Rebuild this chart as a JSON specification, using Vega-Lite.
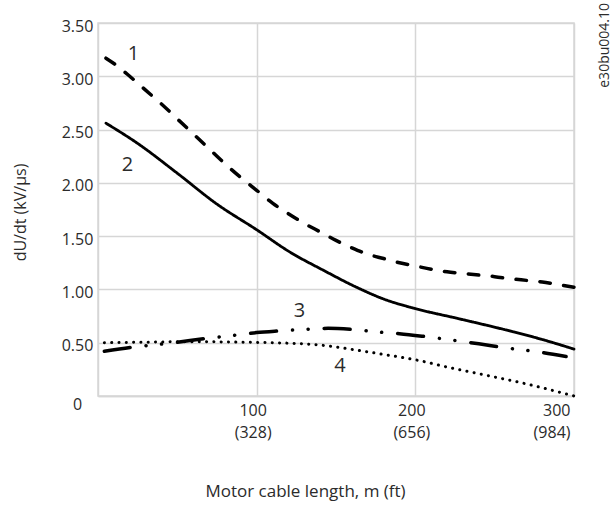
{
  "$schema": "https://vega.github.io/schema/vega-lite/v6.json",
  "width": 476,
  "height": 373,
  "autosize": {"type": "none"},
  "padding": {"left": 98, "top": 23, "right": 40, "bottom": 110},
  "background": "white",
  "config": {
    "font": "Open Sans",
    "view": {"stroke": "#d6d6d6", "strokeWidth": 1.5},
    "axis": {"labelFont": "Open Sans", "titleFont": "Open Sans", "labelColor": "#2b2b2b", "titleColor": "#2b2b2b", "titleFontWeight": "normal", "gridColor": "#d6d6d6", "gridWidth": 1.5, "domainColor": "#d6d6d6", "domainWidth": 1.5, "ticks": false}
  },
  "datasets": {
    "curves": [
      {"curve": "1", "length": 5, "dudt": 3.17},
      {"curve": "1", "length": 10, "dudt": 3.12},
      {"curve": "1", "length": 20, "dudt": 3.0},
      {"curve": "1", "length": 30, "dudt": 2.87},
      {"curve": "1", "length": 40, "dudt": 2.74},
      {"curve": "1", "length": 50, "dudt": 2.6},
      {"curve": "1", "length": 60, "dudt": 2.46},
      {"curve": "1", "length": 70, "dudt": 2.32},
      {"curve": "1", "length": 80, "dudt": 2.18},
      {"curve": "1", "length": 90, "dudt": 2.05},
      {"curve": "1", "length": 100, "dudt": 1.93},
      {"curve": "1", "length": 110, "dudt": 1.81},
      {"curve": "1", "length": 120, "dudt": 1.71},
      {"curve": "1", "length": 130, "dudt": 1.62},
      {"curve": "1", "length": 140, "dudt": 1.54},
      {"curve": "1", "length": 150, "dudt": 1.46},
      {"curve": "1", "length": 160, "dudt": 1.39},
      {"curve": "1", "length": 170, "dudt": 1.33},
      {"curve": "1", "length": 180, "dudt": 1.29},
      {"curve": "1", "length": 190, "dudt": 1.25},
      {"curve": "1", "length": 200, "dudt": 1.22},
      {"curve": "1", "length": 210, "dudt": 1.19},
      {"curve": "1", "length": 220, "dudt": 1.165},
      {"curve": "1", "length": 230, "dudt": 1.15},
      {"curve": "1", "length": 240, "dudt": 1.135},
      {"curve": "1", "length": 250, "dudt": 1.12},
      {"curve": "1", "length": 260, "dudt": 1.1},
      {"curve": "1", "length": 270, "dudt": 1.085},
      {"curve": "1", "length": 280, "dudt": 1.07},
      {"curve": "1", "length": 290, "dudt": 1.045},
      {"curve": "1", "length": 300, "dudt": 1.02},
      {"curve": "2", "length": 5, "dudt": 2.56},
      {"curve": "2", "length": 25, "dudt": 2.37},
      {"curve": "2", "length": 50, "dudt": 2.09},
      {"curve": "2", "length": 75, "dudt": 1.8},
      {"curve": "2", "length": 100, "dudt": 1.56},
      {"curve": "2", "length": 121, "dudt": 1.35},
      {"curve": "2", "length": 142, "dudt": 1.18},
      {"curve": "2", "length": 163, "dudt": 1.02},
      {"curve": "2", "length": 180, "dudt": 0.91},
      {"curve": "2", "length": 200, "dudt": 0.82},
      {"curve": "2", "length": 226, "dudt": 0.73},
      {"curve": "2", "length": 257, "dudt": 0.62},
      {"curve": "2", "length": 280, "dudt": 0.53},
      {"curve": "2", "length": 300, "dudt": 0.44},
      {"curve": "3", "length": 4, "dudt": 0.42},
      {"curve": "3", "length": 23, "dudt": 0.46},
      {"curve": "3", "length": 48, "dudt": 0.5},
      {"curve": "3", "length": 68, "dudt": 0.54},
      {"curve": "3", "length": 86, "dudt": 0.57},
      {"curve": "3", "length": 100, "dudt": 0.595},
      {"curve": "3", "length": 113, "dudt": 0.61},
      {"curve": "3", "length": 130, "dudt": 0.625},
      {"curve": "3", "length": 145, "dudt": 0.635},
      {"curve": "3", "length": 160, "dudt": 0.625},
      {"curve": "3", "length": 177, "dudt": 0.6},
      {"curve": "3", "length": 190, "dudt": 0.585},
      {"curve": "3", "length": 205, "dudt": 0.56},
      {"curve": "3", "length": 223, "dudt": 0.525},
      {"curve": "3", "length": 240, "dudt": 0.49},
      {"curve": "3", "length": 258, "dudt": 0.45},
      {"curve": "3", "length": 277, "dudt": 0.415},
      {"curve": "3", "length": 295, "dudt": 0.37},
      {"curve": "4", "length": 4, "dudt": 0.5},
      {"curve": "4", "length": 30, "dudt": 0.505},
      {"curve": "4", "length": 60, "dudt": 0.51},
      {"curve": "4", "length": 90, "dudt": 0.505},
      {"curve": "4", "length": 110, "dudt": 0.5},
      {"curve": "4", "length": 121, "dudt": 0.495},
      {"curve": "4", "length": 142, "dudt": 0.475},
      {"curve": "4", "length": 159, "dudt": 0.44},
      {"curve": "4", "length": 180, "dudt": 0.39},
      {"curve": "4", "length": 200, "dudt": 0.34},
      {"curve": "4", "length": 222, "dudt": 0.265},
      {"curve": "4", "length": 243, "dudt": 0.2},
      {"curve": "4", "length": 268, "dudt": 0.12},
      {"curve": "4", "length": 300, "dudt": 0.0}
    ],
    "labels": [
      {"curve": "1", "length": 22.4, "dudt": 3.21},
      {"curve": "2", "length": 18.6, "dudt": 2.17},
      {"curve": "3", "length": 127, "dudt": 0.8},
      {"curve": "4", "length": 152.5, "dudt": 0.28}
    ],
    "code": [
      {"text": "e30bu004.10", "length": 319.6, "dudt": 3.29}
    ]
  },
  "layer": [
    {
      "data": {"name": "curves"},
      "mark": {"type": "line", "interpolate": "monotone", "strokeCap": "round", "color": "black"},
      "encoding": {
        "x": {"field": "length", "type": "quantitative", "scale": {"domain": [0, 300], "nice": false, "zero": false},
          "axis": {"values": [100, 200, 300], "title": "Motor cable length, m (ft)", "titleFontSize": 17, "labelFontSize": 16, "labelLineHeight": 22, "labelBaseline": "top", "labelPadding": 6, "labelOffset": -4, "labelFlush": true,
            "labelExpr": "[format(datum.value, 'd'), '(' + format(datum.value * 3.28, 'd') + ')']",
            "titleX": 207, "titleY": 95, "titleBaseline": "middle", "titleAnchor": "middle"}},
        "y": {"field": "dudt", "type": "quantitative", "scale": {"domain": [0, 3.5], "nice": false},
          "axis": {"values": [0, 0.5, 1, 1.5, 2, 2.5, 3, 3.5], "title": "dU/dt (kV/μs)", "titleFontSize": 16, "labelFontSize": 16, "labelPadding": 21, "labelAlign": "center",
            "labelExpr": "datum.value === 0 ? '0' : format(datum.value, '.2f')",
            "labelOffset": {"condition": {"test": "datum.value === 0", "value": 8}, "value": 3},
            "titleX": -78, "titleY": 189, "titleBaseline": "middle", "titleAnchor": "middle"}},
        "detail": {"field": "curve", "type": "nominal"},
        "strokeDash": {"field": "curve", "type": "nominal", "legend": null,
          "scale": {"domain": ["1", "2", "3", "4"], "range": [[10.5, 13.5], [1, 0], [26, 16, 0.1, 15.5, 0.1, 16], [0.1, 7.2]]}},
        "strokeWidth": {"field": "curve", "type": "nominal", "legend": null,
          "scale": {"type": "ordinal", "domain": ["1", "2", "3", "4"], "range": [3.5, 2.8, 3.5, 3]}}
      }
    },
    {
      "data": {"name": "labels"},
      "mark": {"type": "text", "fontSize": 20, "color": "#2b2b2b", "align": "center", "baseline": "middle"},
      "encoding": {
        "x": {"field": "length", "type": "quantitative"},
        "y": {"field": "dudt", "type": "quantitative"},
        "text": {"field": "curve", "type": "nominal"}
      }
    },
    {
      "data": {"name": "code"},
      "mark": {"type": "text", "fontSize": 14, "color": "#2b2b2b", "align": "center", "baseline": "middle", "angle": 270},
      "encoding": {
        "x": {"field": "length", "type": "quantitative"},
        "y": {"field": "dudt", "type": "quantitative"},
        "text": {"field": "text", "type": "nominal"}
      }
    }
  ]
}
